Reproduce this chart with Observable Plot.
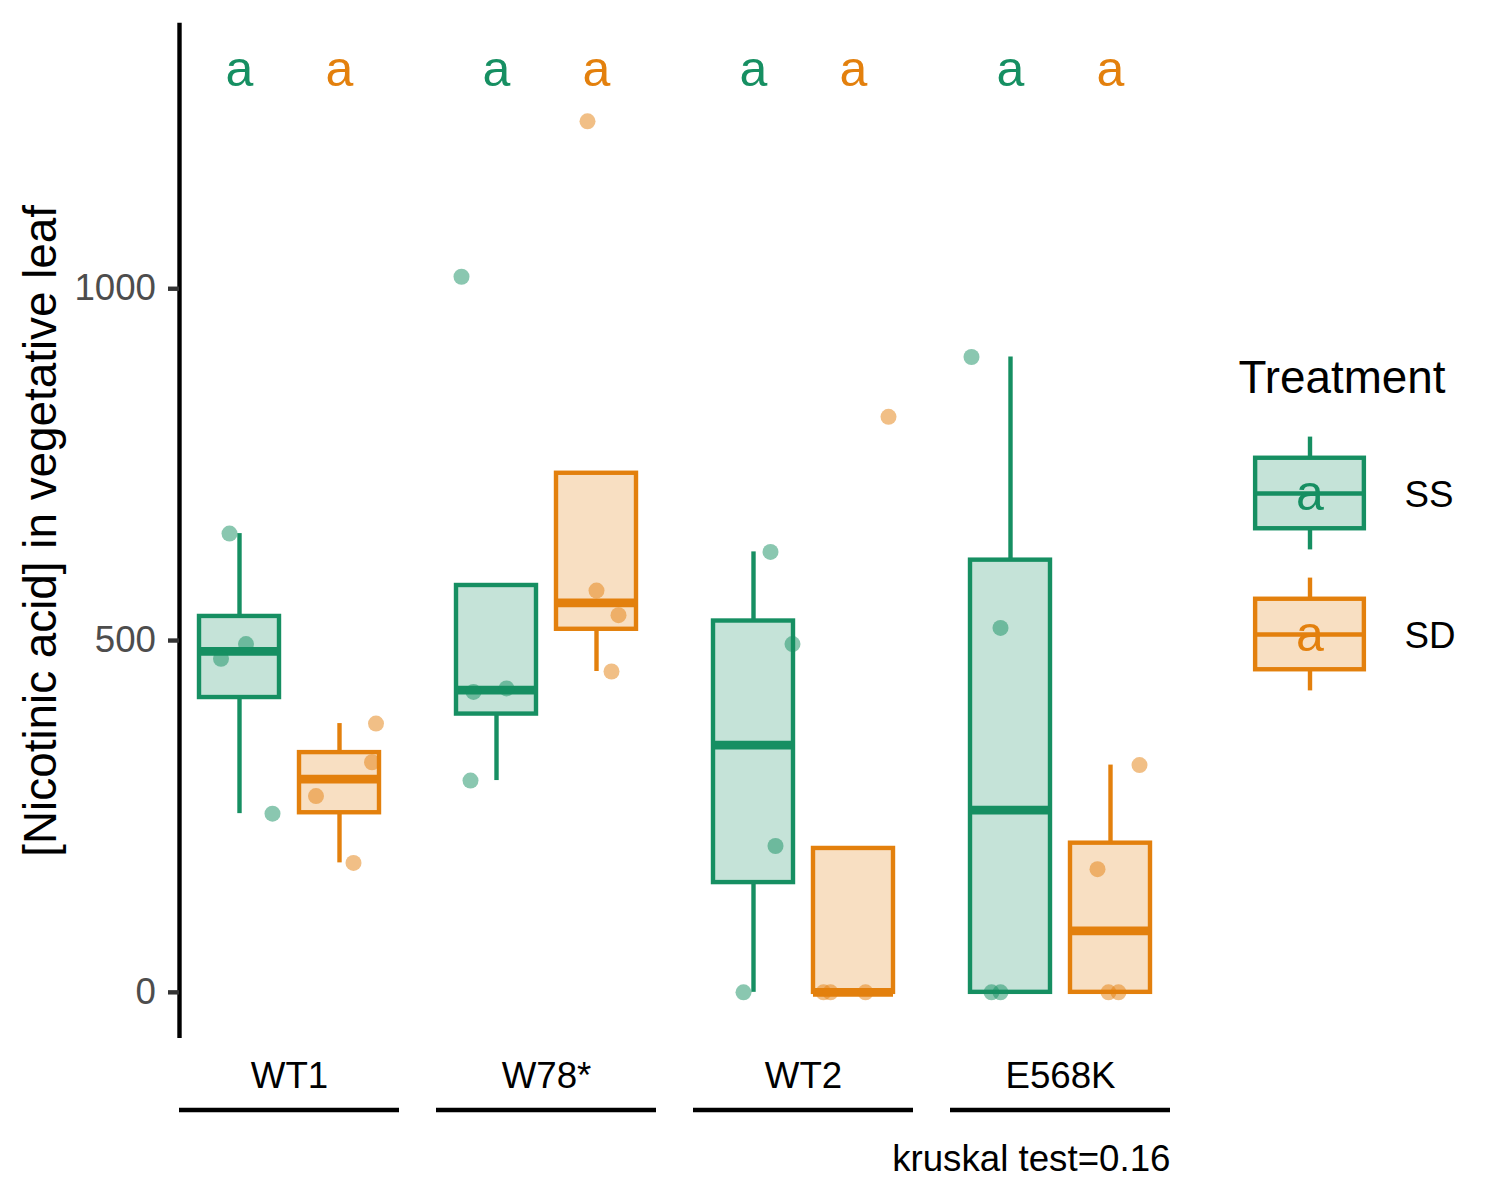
<!DOCTYPE html>
<html><head><meta charset="utf-8">
<script src="https://cdn.jsdelivr.net/npm/d3@7"></script>
<script src="https://cdn.jsdelivr.net/npm/@observablehq/plot@0.6"></script>
<style>
body{margin:0;background:#fff;}
#wrap{position:relative;width:1500px;height:1200px;font-family:"Liberation Sans",Arial,sans-serif;}
#legend{position:absolute;left:1220px;top:340px;}
#main{position:absolute;left:0;top:0;}
</style></head><body><div id="wrap"><div id="main"></div><div id="legend"></div></div>
<script>
// ---- data ----
const genotypes = ["WT1", "W78*", "WT2", "E568K"];
const treatments = ["SS", "SD"];
const palette = ["#168F62", "#E3800D"];
const valuesSS = [[652, 495, 474, 254], [1017, 427, 432, 301], [626, 495, 208, 0], [903, 518, 0, 0]];
const valuesSD = [[382, 327, 279, 184], [1238, 571, 536, 456], [818, 0, 0, 0], [323, 175, 0, 0]];
const jitterSS = [[-0.10, 0.065, -0.185, 0.33], [-0.35, -0.23, 0.10, -0.26], [0.17, 0.39, 0.22, -0.10], [-0.39, -0.10, -0.19, -0.10]];
const jitterSD = [[0.365, 0.325, -0.235, 0.14], [-0.09, 0.0, 0.22, 0.15], [0.35, -0.30, -0.23, 0.12], [0.29, -0.13, -0.02, 0.08]];
const lettersSS = ["a", "a", "a", "a"];
const lettersSD = ["a", "a", "a", "a"];
const letterY = 1312;
const yTicks = [0, 500, 1000];
const yTitle = "[Nicotinic acid] in vegetative leaf";
const legendTitle = "Treatment";
const caption = "kruskal test=0.16";

// ---- derived tables ----
const xDomain = [0.4, 2.6];
const halfBox = 0.4;
const points = [];
const stats = [];
genotypes.forEach((g, gi) => treatments.forEach((t, ti) => {
  const vals = (ti === 0 ? valuesSS : valuesSD)[gi];
  const jit = (ti === 0 ? jitterSS : jitterSD)[gi];
  const pos = ti + 1;
  vals.forEach((v, k) => points.push({g, t, x: pos + jit[k], y: v}));
  const s = vals.slice().sort(d3.ascending);
  const q1 = d3.quantile(s, 0.25), med = d3.quantile(s, 0.5), q3 = d3.quantile(s, 0.75);
  const iqr = q3 - q1;
  const lo = d3.min(s.filter(v => v >= q1 - 1.5 * iqr));
  const hi = d3.max(s.filter(v => v <= q3 + 1.5 * iqr));
  stats.push({g, t, pos, q1, med, q3, lo, hi, letter: (ti === 0 ? lettersSS : lettersSD)[gi]});
}));

const font = "'Liberation Sans', Arial, sans-serif";
const lw = 4.4;

const chart = Plot.plot({
  width: 1500, height: 1200,
  marginLeft: 178.5, marginRight: 330, marginTop: 22.7, marginBottom: 162,
  style: {fontFamily: font, background: "white", overflow: "visible"},
  fx: {domain: genotypes, paddingInner: 0.144, paddingOuter: 0, label: null},
  x: {domain: xDomain, axis: null},
  y: {domain: [-65.6, 1377.4], label: null},
  color: {domain: treatments, range: palette},
  marks: [
    Plot.ruleX(stats.filter(d => d.hi > d.q3), {fx: "g", x: "pos", y1: "q3", y2: "hi", stroke: "t", strokeWidth: lw}),
    Plot.ruleX(stats.filter(d => d.lo < d.q1), {fx: "g", x: "pos", y1: "lo", y2: "q1", stroke: "t", strokeWidth: lw}),
    Plot.rect(stats, {fx: "g", x1: d => d.pos - halfBox, x2: d => d.pos + halfBox, y1: "q1", y2: "q3",
      fill: "t", fillOpacity: 0.25, stroke: "t", strokeWidth: lw}),
    Plot.ruleY(stats, {fx: "g", y: "med", x1: d => d.pos - halfBox, x2: d => d.pos + halfBox, stroke: "t", strokeWidth: 8.8}),
    Plot.dot(points, {fx: "g", x: "x", y: "y", r: 8, fill: "t", fillOpacity: 0.5, stroke: null}),
    Plot.text(stats, {fx: "g", x: "pos", y: () => letterY, text: "letter", fill: "t", fontSize: 50, dy: 1}),
    Plot.ruleX([genotypes[0]], {fx: d => d, x: () => xDomain[0], stroke: "black", strokeWidth: lw}),
    Plot.ruleY([0], {dy: 117.7, stroke: "black", strokeWidth: lw}),
    Plot.axisY({ticks: yTicks, tickFormat: d => String(d), tickSize: 11, tickPadding: 12.5, fontSize: 36.7, fill: "#4D4D4D", stroke: "#333333", strokeWidth: lw, label: null}),
    Plot.axisFx({anchor: "bottom", tickSize: 0, tickPadding: 23.6, fontSize: 36.7, fill: "black", label: null}),
    Plot.text([yTitle], {fx: () => genotypes[0], frameAnchor: "left", textAnchor: "middle", lineAnchor: "middle", rotate: -90, dx: -138, fontSize: 45.8, fill: "black"}),
    Plot.text([caption], {fx: () => genotypes[genotypes.length - 1], frameAnchor: "bottom-right", textAnchor: "end", lineAnchor: "middle", dy: 120.3, fontSize: 36.7, fill: "black"})
  ]
});
document.getElementById("main").appendChild(chart);

// ---- legend ----
const keys = treatments.map((t, i) => ({t, i}));
const legend = Plot.plot({
  width: 260, height: 370,
  marginLeft: 17, marginRight: 98, marginTop: 82.5, marginBottom: 5.5,
  style: {fontFamily: font, background: "transparent", overflow: "visible"},
  x: {domain: [0, 1], axis: null},
  y: {domain: [0, 2], range: [82.5, 364.5], axis: null},
  color: {domain: treatments, range: palette},
  marks: [
    Plot.ruleX(keys, {x: () => 0.5, y1: d => d.i + 0.1, y2: d => d.i + 0.25, stroke: "t", strokeWidth: lw}),
    Plot.ruleX(keys, {x: () => 0.5, y1: d => d.i + 0.75, y2: d => d.i + 0.9, stroke: "t", strokeWidth: lw}),
    Plot.rect(keys, {x1: () => 0.125, x2: () => 0.875, y1: d => d.i + 0.25, y2: d => d.i + 0.75, fill: "t", fillOpacity: 0.25, stroke: "t", strokeWidth: lw}),
    Plot.ruleY(keys, {y: d => d.i + 0.5, x1: () => 0.125, x2: () => 0.875, stroke: "t", strokeWidth: lw}),
    Plot.text(keys, {x: () => 0.5, y: d => d.i + 0.5, text: d => (d.i === 0 ? lettersSS : lettersSD)[0], fill: "t", fontSize: 50}),
    Plot.text(keys, {x: () => 1, y: d => d.i + 0.5, text: "t", textAnchor: "start", dx: 22, dy: 2, fontSize: 36.7, fill: "black"}),
    Plot.text([legendTitle], {frameAnchor: "top-left", textAnchor: "start", lineAnchor: "middle", dx: 1, dy: -44.2, fontSize: 45.8, fill: "black"})
  ]
});
document.getElementById("legend").appendChild(legend);
</script>
</body></html>
